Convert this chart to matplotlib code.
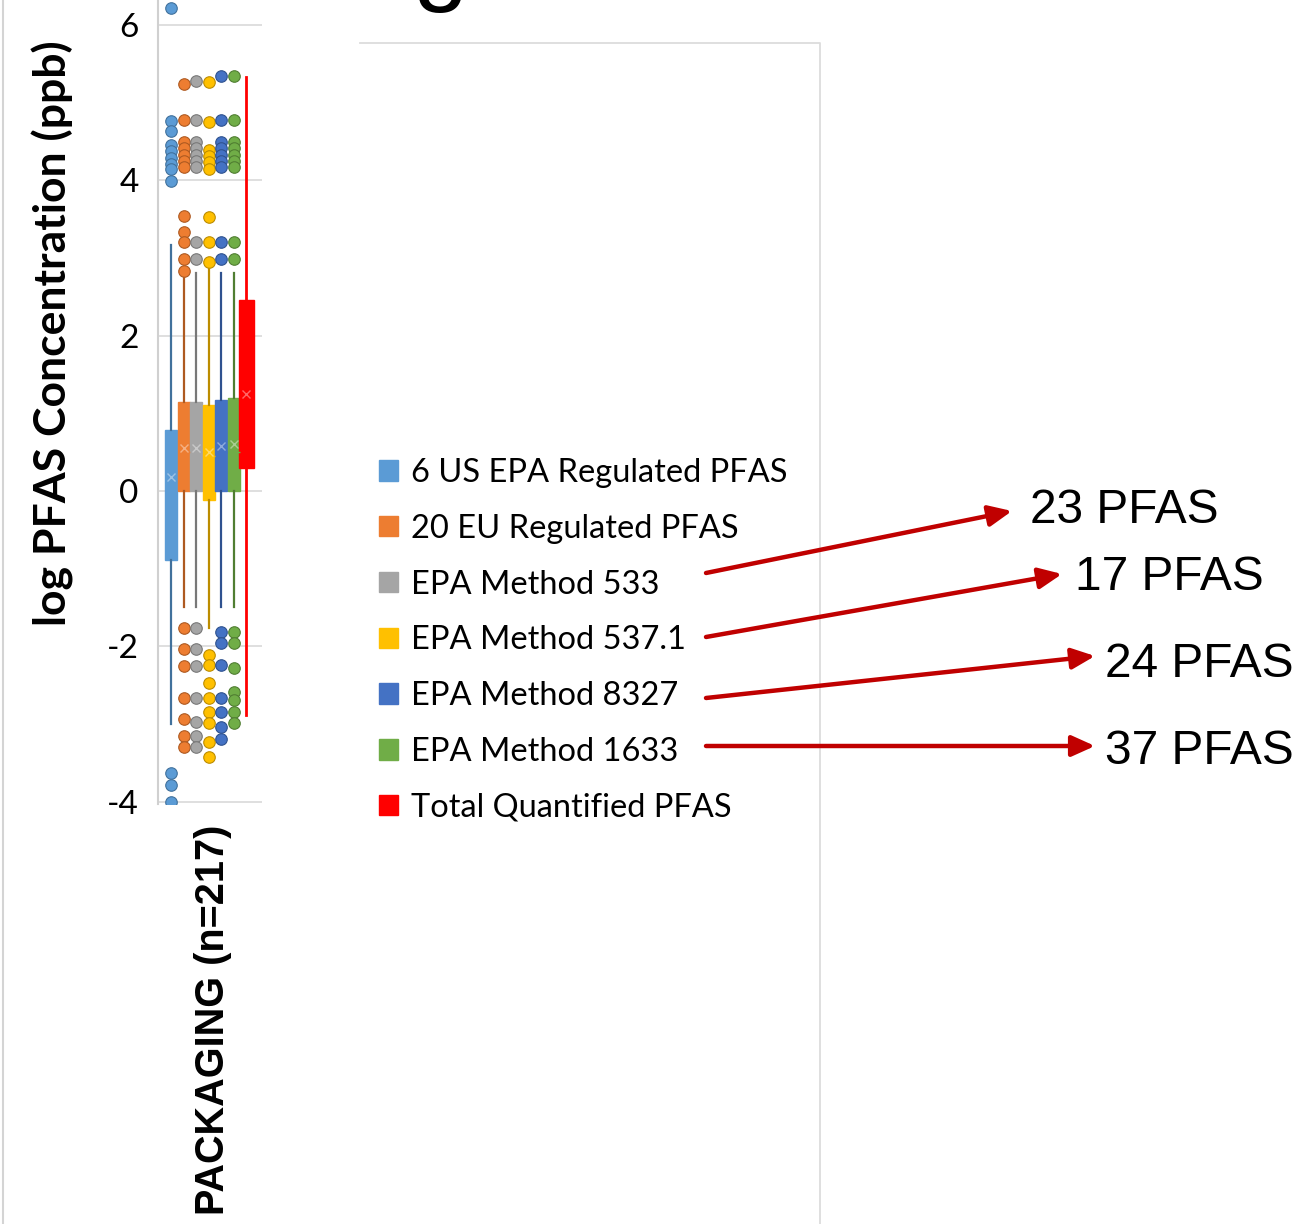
import matplotlib
matplotlib.use('Agg')
import matplotlib.pyplot as plt
from matplotlib.patches import Patch

plt.rcParams['axes.unicode_minus'] = False

# Series shown in the packaging box plot
series = ['6 US EPA Regulated PFAS', '20 EU Regulated PFAS', 'EPA Method 533',
          'EPA Method 537.1', 'EPA Method 8327', 'EPA Method 1633',
          'Total Quantified PFAS']
colors = ['#5B9BD5', '#ED7D31', '#A5A5A5', '#FFC000', '#4472C4', '#70AD47', '#FF0000']
edge_colors = ['#41719C', '#AE5A21', '#787878', '#BC8C00', '#2F528F', '#507E32', '#FF0000']

category = 'PACKAGING (n=217)'

# log PFAS concentration (ppb) summary per series
whisker_low = [-3.00, -1.50, -1.50, -1.76, -1.50, -1.50, -2.88]
q1 = [-0.89, 0.00, 0.00, -0.12, 0.00, 0.00, 0.30]
median = [-0.05, 0.50, 0.50, 0.45, 0.50, 0.50, 1.20]
q3 = [0.78, 1.15, 1.15, 1.10, 1.17, 1.20, 2.46]
whisker_high = [3.17, 2.75, 2.80, 2.93, 2.80, 2.80, 5.33]
means = [0.18, 0.55, 0.55, 0.50, 0.58, 0.60, 1.25]

outliers_us_epa = [6.22, 4.76, 4.63, 4.45, 4.37, 4.29, 4.21, 4.14, 3.99,
                   -3.63, -3.78, -4.00]
outliers_eu = [5.24, 4.77, 4.49, 4.41, 4.33, 4.25, 4.17, 3.54, 3.33, 3.20, 2.99, 2.83,
               -1.76, -2.03, -2.25, -2.66, -2.93, -3.15, -3.29]
outliers_533 = [5.28, 4.77, 4.49, 4.41, 4.33, 4.25, 4.17, 3.20, 2.99,
                -1.76, -2.03, -2.25, -2.66, -2.97, -3.15, -3.29]
outliers_537 = [5.26, 4.75, 4.39, 4.31, 4.23, 4.15, 3.53, 3.20, 2.95,
                -2.11, -2.24, -2.47, -2.66, -2.84, -2.99, -3.23, -3.42]
outliers_8327 = [5.34, 4.77, 4.49, 4.41, 4.33, 4.25, 4.17, 3.20, 2.99,
                 -1.81, -1.96, -2.24, -2.66, -2.84, -3.04, -3.19]
outliers_1633 = [5.34, 4.77, 4.49, 4.41, 4.33, 4.25, 4.17, 3.20, 2.99,
                 -1.81, -1.96, -2.28, -2.59, -2.69, -2.84, -2.99]
outliers_total = []
outliers = [outliers_us_epa, outliers_eu, outliers_533, outliers_537,
            outliers_8327, outliers_1633, outliers_total]

# number of compounds covered by each EPA method
method_counts = ['23 PFAS', '17 PFAS', '24 PFAS', '37 PFAS']

W, H = 1307, 1224
fig = plt.figure(figsize=(W / 100, H / 100), dpi=100)

ax = fig.add_axes([158 / W, 1 - 804 / H, (262 - 158) / W, 804 / H])
stats = []
for i in range(len(series)):
    stats.append(dict(whislo=whisker_low[i], q1=q1[i], med=median[i], q3=q3[i],
                      whishi=whisker_high[i], mean=means[i], fliers=outliers[i]))
positions = list(range(1, len(series) + 1))
widths = [0.96] * 6 + [1.2]
bp = ax.bxp(stats, positions=positions, widths=widths, patch_artist=True,
            showcaps=False, showmeans=True, zorder=3)
for i, c in enumerate(colors):
    bp['boxes'][i].set(facecolor=c, edgecolor=c, linewidth=1)
    bp['medians'][i].set(color=c, linewidth=1)
    bp['whiskers'][2 * i].set(color=edge_colors[i], linewidth=1.6)
    bp['whiskers'][2 * i + 1].set(color=edge_colors[i], linewidth=1.6)
    bp['means'][i].set(marker='x', markeredgecolor='white', markersize=6,
                       markeredgewidth=1, alpha=0.4)
    bp['fliers'][i].set(marker='o', markerfacecolor=c, markeredgecolor=edge_colors[i],
                        markersize=8.3, markeredgewidth=0.8)
bp['whiskers'][12].set(color='#FF0000', linewidth=2)
bp['whiskers'][13].set(color='#FF0000', linewidth=2)

ax.set_xlim(-0.04, 8.28)
ax.set_ylim(-4.03, 6.32)
ax.set_yticks([-4, -2, 0, 2, 4, 6])
ax.yaxis.grid(True, color='#dcdcdc', linewidth=1.3, zorder=0)
ax.set_axisbelow(True)
for side in ['top', 'right', 'bottom']:
    ax.spines[side].set_visible(False)
ax.spines['left'].set_color('#d0d0d0')
ax.spines['left'].set_linewidth(1.5)
ax.tick_params(axis='y', length=0, pad=14, labelsize=24)
for lbl in ax.get_yticklabels():
    lbl.set_family('Lato')
ax.set_xticks([4.4])
ax.set_xticklabels([category], rotation=90, fontsize=28.5, fontweight='bold',
                   family='Liberation Sans')
ax.tick_params(axis='x', length=0, pad=15)

fig.text(53 / W, 1 - 333 / H, 'log PFAS Concentration (ppb)', rotation=90,
         ha='center', va='center', fontsize=32, fontweight='bold', family='Lato')

# legend in the right-hand panel
handles = [Patch(facecolor=c, edgecolor=c) for c in colors]
fig.legend(handles, series, loc='upper left', bbox_to_anchor=(379 / W, 1 - 458 / H),
           frameon=False, prop={'family': 'Lato', 'size': 23.5},
           handlelength=0.58, handleheight=0.58, handletextpad=0.4,
           labelspacing=0.79, borderpad=0, borderaxespad=0)

# overlay in pixel coordinates for panel frame, arrows and labels
ov = fig.add_axes([0, 0, 1, 1])
ov.set_xlim(0, W)
ov.set_ylim(H, 0)
ov.axis('off')
ov.plot([3, 3], [0, H], color='#d4d4d4', linewidth=1.5)
ov.plot([360, 820, 820], [43, 43, H], color='#dcdcdc', linewidth=1.3)
ov.text(413, -8, 'g', fontsize=72, family='Liberation Sans', va='baseline')

arrow_starts = [(706, 573), (706, 637), (706, 698), (706, 746)]
arrow_tips = [(1012, 511), (1062, 574), (1095, 656), (1095, 746)]
label_pos = [(1030, 523), (1075, 590), (1105, 677), (1105, 764)]
for start, tip, pos, txt in zip(arrow_starts, arrow_tips, label_pos, method_counts):
    ov.annotate('', xy=tip, xytext=start,
                arrowprops=dict(arrowstyle='-|>,head_length=1.0,head_width=0.45',
                                color='#C00000', lw=3.2, mutation_scale=14,
                                shrinkA=0, shrinkB=0))
    ov.text(pos[0], pos[1], txt, fontsize=34.5, family='Liberation Sans',
            va='baseline', ha='left')

fig.savefig('out.png', dpi=100)
